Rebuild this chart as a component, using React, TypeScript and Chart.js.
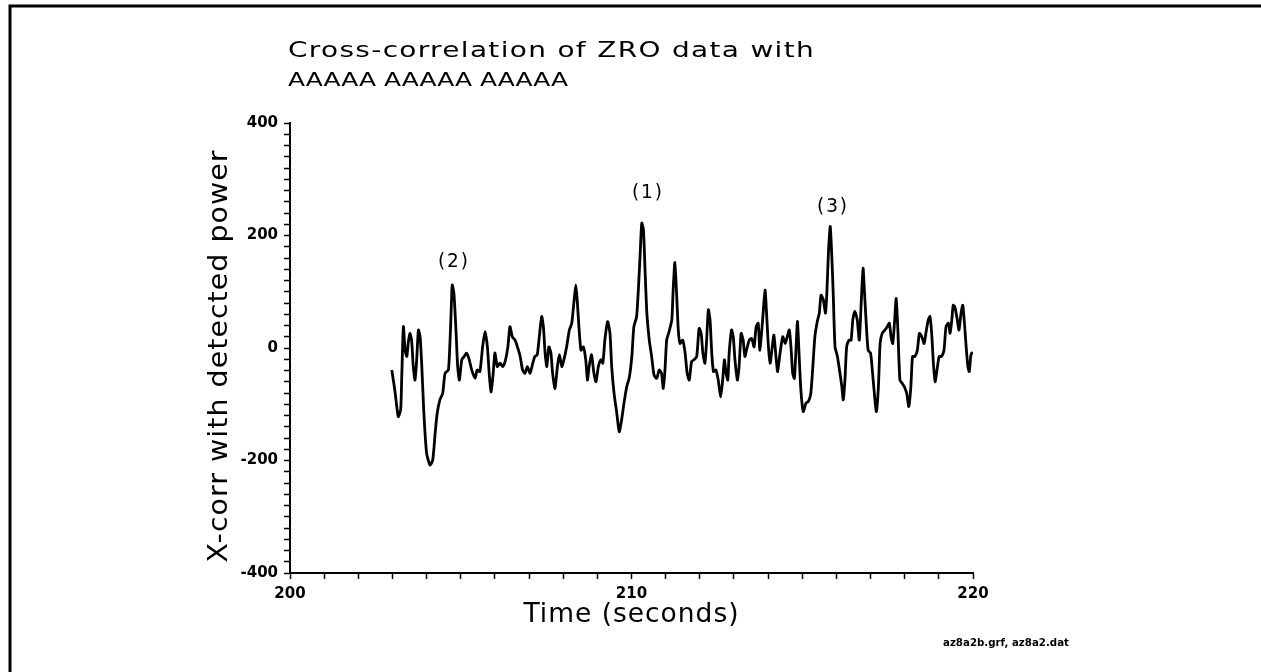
import React, { useEffect, useRef } from "react";
import { Chart, registerables } from "chart.js";

Chart.register(...registerables);

// ---- data ----
const timeSec = [
  202.98, 203.07, 203.17, 203.24, 203.27, 203.32, 203.37, 203.42, 203.46, 203.51,
  203.56, 203.61, 203.66, 203.71, 203.76, 203.81, 203.86, 203.92, 204.0, 204.1,
  204.18, 204.25, 204.31, 204.39, 204.47, 204.54, 204.64, 204.71, 204.75, 204.8,
  204.86, 204.91, 204.96, 205.03, 205.1, 205.17, 205.25, 205.32, 205.42, 205.48,
  205.56, 205.64, 205.71, 205.78, 205.84, 205.89, 205.95, 206.0, 206.07, 206.15,
  206.23, 206.3, 206.38, 206.44, 206.51, 206.59, 206.66, 206.74, 206.81, 206.88,
  206.95, 207.03, 207.11, 207.17, 207.24, 207.3, 207.37, 207.42, 207.47, 207.52,
  207.58, 207.64, 207.69, 207.76, 207.83, 207.89, 207.96, 208.02, 208.1, 208.18,
  208.25, 208.32, 208.37, 208.41, 208.46, 208.52, 208.59, 208.66, 208.71, 208.76,
  208.83, 208.9, 208.96, 209.03, 209.1, 209.16, 209.22, 209.3, 209.37, 209.42,
  209.49, 209.57, 209.64, 209.71, 209.78, 209.86, 209.94, 210.01, 210.07, 210.15,
  210.2, 210.25, 210.3, 210.35, 210.4, 210.45, 210.52, 210.59, 210.66, 210.74,
  210.81, 210.88, 210.93, 210.98, 211.03, 211.1, 211.18, 211.22, 211.27, 211.32,
  211.37, 211.42, 211.5, 211.57, 211.63, 211.69, 211.76, 211.83, 211.91, 211.98,
  212.04, 212.09, 212.15, 212.2, 212.25, 212.3, 212.35, 212.4, 212.47, 212.54,
  212.61, 212.67, 212.72, 212.77, 212.82, 212.86, 212.93, 212.98, 213.03, 213.1,
  213.15, 213.21, 213.27, 213.32, 213.39, 213.45, 213.52, 213.59, 213.65, 213.71,
  213.76, 213.84, 213.91, 213.96, 214.01, 214.06, 214.11, 214.17, 214.23, 214.28,
  214.35, 214.43, 214.5, 214.56, 214.62, 214.67, 214.72, 214.77, 214.82, 214.86,
  214.91, 214.96, 215.03, 215.11, 215.18, 215.25, 215.31, 215.37, 215.44, 215.5,
  215.55, 215.62, 215.68, 215.72, 215.77, 215.82, 215.87, 215.91, 215.96, 216.03,
  216.09, 216.16, 216.2, 216.25, 216.3, 216.37, 216.43, 216.48, 216.54, 216.61,
  216.67, 216.73, 216.78, 216.83, 216.89, 216.93, 217.0, 217.06, 217.12, 217.17,
  217.23, 217.28, 217.34, 217.42, 217.49, 217.55, 217.6, 217.65, 217.7, 217.75,
  217.8, 217.86, 217.93, 217.99, 218.06, 218.12, 218.18, 218.23, 218.3, 218.37,
  218.43, 218.5, 218.57, 218.62, 218.69, 218.74, 218.79, 218.84, 218.89, 218.96,
  219.01, 219.08, 219.15, 219.21, 219.28, 219.33, 219.38, 219.42, 219.47, 219.54,
  219.59, 219.65, 219.7, 219.75, 219.8, 219.85, 219.89, 219.94, 219.99,
];

const xcorrValues = [
  -39, -75, -122, -110, -57, 38, -4, -15, 8, 26,
  14, -33, -57, -21, 32, 20, -33, -116, -187, -208,
  -199, -152, -116, -92, -81, -45, -39, 50, 112, 97,
  32, -33, -57, -21, -15, -9, -21, -39, -54, -39,
  -42, 2, 29, 2, -51, -78, -45, -9, -33, -27,
  -33, -24, 2, 38, 20, 14, 2, -15, -39, -45,
  -33, -45, -27, -15, -12, 20, 56, 38, -9, -33,
  2, -9, -45, -72, -33, -12, -33, -21, 2, 32,
  44, 85, 112, 85, 38, -4, 2, -21, -57, -33,
  -12, -45, -60, -33, -21, -27, 14, 47, 26, -33,
  -81, -116, -149, -128, -98, -69, -51, -15, 38, 56,
  103, 162, 222, 210, 133, 62, 14, -15, -48, -54,
  -39, -45, -72, -39, 14, 29, 50, 103, 152, 97,
  32, 8, 14, -9, -45, -57, -24, -21, -15, 35,
  26, -9, -27, 14, 68, 50, -9, -42, -39, -57,
  -87, -57, -21, -45, -57, -9, 32, 20, -21, -57,
  -33, 26, 14, -15, 2, 14, 17, 2, 38, 44,
  -4, 50, 103, 56, 2, -27, -4, 23, -15, -42,
  -9, 20, 8, 20, 32, 2, -45, -54, 2, 47,
  -15, -75, -113, -98, -95, -81, -33, 20, 47, 62,
  94, 85, 62, 97, 174, 216, 156, 91, 2, -15,
  -39, -69, -92, -57, 2, 14, 14, 50, 65, 50,
  14, 85, 142, 91, 26, -4, -9, -45, -87, -113,
  -69, 8, 26, 32, 38, 44, 20, 8, 44, 88,
  32, -57, -63, -69, -81, -104, -69, -15, -15, -4,
  26, 20, 8, 26, 50, 56, 26, -27, -60, -33,
  -15, -15, -4, 38, 44, 26, 50, 76, 73, 50,
  32, 62, 76, 44, 2, -33, -42, -12, -7,
];

const peakLabels = ["(2)", "(1)", "(3)"];
const peakTimes = [204.8, 210.48, 215.9];
const peakValues = [153, 276, 251];

const xLabeledTicks = [200, 210, 220];
const yLabeledTicks = [-400, -200, 0, 200, 400];

const titleLines = ["Cross-correlation of ZRO data with", "AAAAA AAAAA AAAAA"];
const xAxisTitle = "Time (seconds)";
const yAxisTitle = "X-corr with detected power";
const footnote = "az8a2b.grf, az8a2.dat";

// ---- drawing helpers ----
function drawFitted(
  ctx: CanvasRenderingContext2D,
  text: string,
  x: number,
  y: number,
  font: string,
  width: number,
  align: CanvasTextAlign,
  spacing: number,
  baseline: CanvasTextBaseline = "alphabetic"
) {
  ctx.save();
  ctx.font = font;
  (ctx as any).letterSpacing = spacing + "px";
  const w = ctx.measureText(text).width;
  const s = width / w;
  ctx.translate(x, y);
  ctx.scale(s, 1);
  ctx.textAlign = align;
  ctx.textBaseline = baseline;
  ctx.fillStyle = "#000";
  ctx.fillText(text, 0, 0);
  ctx.restore();
}

const decorPlugin = {
  id: "decor",
  afterDraw(chart: any) {
    const ctx: CanvasRenderingContext2D = chart.ctx;
    const area = chart.chartArea;
    ctx.save();
    ctx.fillStyle = "#fff";
    ctx.fillRect(1240, 9, 21, 663);
    // page frame
    ctx.strokeStyle = "#000";
    ctx.lineWidth = 3;
    ctx.beginPath();
    ctx.moveTo(10, 672);
    ctx.lineTo(10, 6);
    ctx.lineTo(1261, 6);
    ctx.stroke();
    ctx.restore();

    // title
    drawFitted(ctx, titleLines[0], area.left - 2, 57, "21px 'DejaVu Sans'", 527, "left", 1);
    drawFitted(ctx, titleLines[1], area.left - 2, 86, "20px 'DejaVu Sans'", 280, "left", 0);

    // x axis title
    drawFitted(ctx, xAxisTitle, (area.left + area.right) / 2, 622, "27px 'DejaVu Sans'", 216, "center", 1);

    // y axis title
    ctx.save();
    ctx.translate(227, (area.top + area.bottom) / 2 + 8);
    ctx.rotate(-Math.PI / 2);
    drawFitted(ctx, yAxisTitle, 0, 0, "27px 'DejaVu Sans'", 413, "center", 1);
    ctx.restore();

    // peak annotations
    const xs = chart.scales.x;
    const ys = chart.scales.y;
    peakLabels.forEach((lab, i) => {
      drawFitted(
        ctx,
        lab,
        xs.getPixelForValue(peakTimes[i]),
        ys.getPixelForValue(peakValues[i]),
        "19px 'DejaVu Sans'",
        32,
        "center",
        2,
        "middle"
      );
    });

    // footnote
    drawFitted(ctx, footnote, 943, 646, "bold 10px 'DejaVu Sans'", 126, "left", 0);
  },
};

export default function App() {
  const canvasRef = useRef<HTMLCanvasElement | null>(null);

  useEffect(() => {
    document.body.style.margin = "0";
    const canvas = canvasRef.current;
    if (!canvas) return;
    const points = timeSec.map((t, i) => ({ x: t, y: xcorrValues[i] }));
    const tickFont = { family: "'DejaVu Sans'", size: 15, weight: "bold" as const };

    const chart = new Chart(canvas, {
      type: "line",
      data: {
        datasets: [
          {
            data: points,
            borderColor: "#000",
            borderWidth: 2.8,
            pointRadius: 0,
            tension: 0.2,
            fill: false,
          },
        ],
      },
      options: {
        animation: false,
        responsive: false,
        devicePixelRatio: 1,
        events: [],
        layout: { padding: { left: 0, right: 288, top: 123, bottom: 0 } },
        plugins: {
          legend: { display: false },
          title: { display: false },
          tooltip: { enabled: false },
        },
        scales: {
          x: {
            type: "linear",
            min: 200,
            max: 220,
            afterFit: (scale: any) => {
              scale.height = 99;
            },
            ticks: {
              stepSize: 1,
              maxTicksLimit: 1000,
              autoSkip: false,
              maxRotation: 0,
              padding: 6,
              color: "#000",
              font: tickFont,
              callback: (v: any) => (xLabeledTicks.includes(Number(v)) ? String(v) : ""),
            },
            grid: {
              drawOnChartArea: false,
              drawTicks: true,
              tickLength: 6,
              tickColor: "#000",
              tickWidth: 1.5,
            },
            border: { display: true, color: "#000", width: 2 },
          },
          y: {
            type: "linear",
            min: -400,
            max: 400,
            afterFit: (scale: any) => {
              scale.width = 290;
            },
            ticks: {
              stepSize: 20,
              maxTicksLimit: 1000,
              autoSkip: false,
              padding: 6,
              color: "#000",
              font: tickFont,
              callback: (v: any) => (yLabeledTicks.includes(Number(v)) ? String(v) : ""),
            },
            grid: {
              drawOnChartArea: false,
              drawTicks: true,
              tickLength: 6,
              tickColor: "#000",
              tickWidth: 1.5,
            },
            border: { display: true, color: "#000", width: 2 },
          },
        },
      },
      plugins: [decorPlugin],
    });

    return () => {
      chart.destroy();
    };
  }, []);

  return (
    <div
      style={{
        position: "fixed",
        left: 0,
        top: 0,
        width: 1261,
        height: 672,
        background: "#fff",
      }}
    >
      <canvas ref={canvasRef} width={1261} height={672} style={{ display: "block" }} />
    </div>
  );
}
